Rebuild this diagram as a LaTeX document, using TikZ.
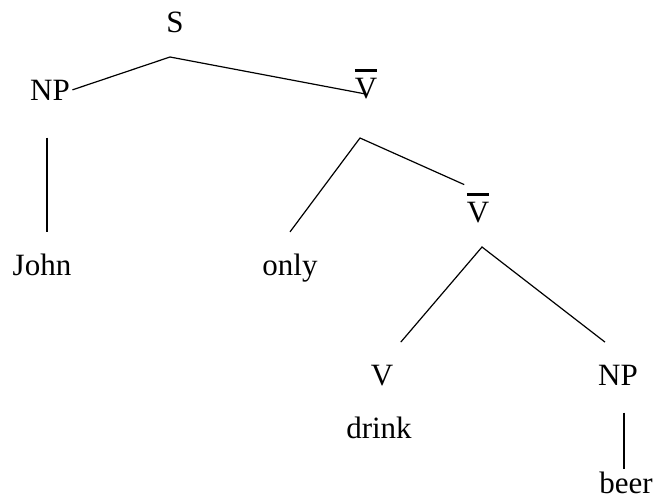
\documentclass[tikz,border=0pt]{standalone}
\usepackage{fontspec}
\setmainfont{Liberation Serif}
\newcommand{\barcat}[1]{\vbox{\hrule height 2.5pt\kern 6pt\hbox{#1}}}

\begin{document}
\begin{tikzpicture}[x=1pt, y=-1pt, line width=1.2pt, every node/.style={font=\fontsize{31}{36}\selectfont, inner sep=2pt, anchor=base}]
\useasboundingbox (0,0) rectangle (658,501);
\node (s) at (175,32) {S};
\node (np) at (50,100) {NP};
\node (vbar) at (366,98) {\barcat{V}};
\node (john) at (42,275) {John};
\node (only) at (290,275) {only};
\node (vbarlow) at (478,222) {\barcat{V}};
\node (v) at (382,385) {V};
\node (drink) at (379,438) {drink};
\node (nplow) at (618,385) {NP};
\node (beer) at (626,493) {beer};
\coordinate (sjoin) at (170,57);
\coordinate (vjoin) at (360,138);
\coordinate (vlowjoin) at (482,247);
\draw (np.east) -- (sjoin) -- ([yshift=7pt]vbar.south);
\draw ([xshift=-3pt,yshift=-35pt]np.south) -- ([xshift=5pt,yshift=19pt]john.north);
\draw ([yshift=19pt]only.north) -- (vjoin) -- ([yshift=6pt]vbarlow.north west);
\draw ([shift={(5pt,20pt)}]v.north east) -- (vlowjoin) -- ([shift={(-13pt,20pt)}]nplow.north);
\draw ([shift={(6pt,-25pt)}]nplow.south) -- ([xshift=-2pt]beer.north);
\end{tikzpicture}
\end{document}
